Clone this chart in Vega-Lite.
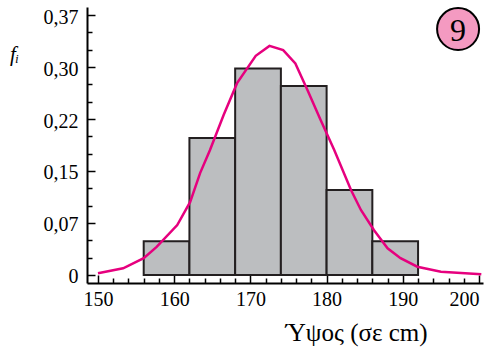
{
  "$schema": "https://vega.github.io/schema/vega-lite/v6.json",
  "width": 396,
  "height": 276,
  "autosize": {"type": "none"},
  "padding": {"left": 87, "top": 7, "right": 1, "bottom": 68},
  "background": "white",
  "config": {
    "view": {"stroke": null},
    "axis": {
      "labelFont": "Liberation Serif, DejaVu Serif, serif",
      "titleFont": "Liberation Serif, DejaVu Serif, serif",
      "domainColor": "black",
      "tickColor": "black",
      "labelColor": "black",
      "titleColor": "black",
      "grid": false,
      "domainWidth": 2,
      "tickWidth": 1.5,
      "labelOverlap": false,
      "titleFontWeight": "normal"
    }
  },
  "datasets": {
    "bins": [
      {"start": 156, "end": 162, "f": 0.048},
      {"start": 162, "end": 168, "f": 0.195},
      {"start": 168, "end": 174, "f": 0.294},
      {"start": 174, "end": 180, "f": 0.269},
      {"start": 180, "end": 186, "f": 0.121},
      {"start": 186, "end": 192, "f": 0.048}
    ],
    "curve": [
      {"h": 150.0, "p": 0.0024},
      {"h": 153.3, "p": 0.0095},
      {"h": 156.0, "p": 0.024},
      {"h": 157.7, "p": 0.040},
      {"h": 160.4, "p": 0.071},
      {"h": 162.1, "p": 0.104},
      {"h": 163.4, "p": 0.145},
      {"h": 164.7, "p": 0.178},
      {"h": 166.5, "p": 0.228},
      {"h": 168.25, "p": 0.273},
      {"h": 170.7, "p": 0.312},
      {"h": 172.5, "p": 0.326},
      {"h": 174.3, "p": 0.320},
      {"h": 175.9, "p": 0.301},
      {"h": 177.5, "p": 0.263},
      {"h": 179.2, "p": 0.221},
      {"h": 181.0, "p": 0.178},
      {"h": 183.2, "p": 0.121},
      {"h": 184.5, "p": 0.0925},
      {"h": 186.2, "p": 0.064},
      {"h": 188.0, "p": 0.038},
      {"h": 189.7, "p": 0.024},
      {"h": 191.9, "p": 0.0118},
      {"h": 195.0, "p": 0.0047},
      {"h": 200.3, "p": 0.001}
    ]
  },
  "layer": [
    {
      "data": {"name": "bins"},
      "mark": {"type": "rect", "fill": "#bcbec0", "stroke": "#231f20", "strokeWidth": 2},
      "encoding": {
        "x": {
          "field": "start",
          "type": "quantitative",
          "title": "Ύψος (σε cm)",
          "scale": {"domain": [148.56, 200.52], "nice": false, "zero": false},
          "axis": {
            "values": [150,152,154,156,158,160,162,164,166,168,170,172,174,176,178,180,182,184,186,188,190,192,194,196,198,200],
            "tickCount": 200,
            "labelExpr": "datum.value % 10 == 0 ? datum.value : ''",
            "labelOverlap": false,
            "tickSize": {"condition": {"test": "datum.value % 10 == 0", "value": -8}, "value": -5},
            "labelFontSize": 20,
            "labelPadding": 14,
            "labelFlush": 5,
            "titleFontSize": 25,
            "titleX": 269,
            "titleY": 57,
            "titleAlign": "center",
            "titleBaseline": "alphabetic"
          }
        },
        "x2": {"field": "end"},
        "y": {
          "field": "f",
          "type": "quantitative",
          "title": "fᵢ",
          "scale": {"domain": [-0.0114, 0.3814], "nice": false, "zero": false},
          "axis": {
            "values": [0, 0.0246667, 0.0493333, 0.074, 0.0986667, 0.1233333, 0.148, 0.1726667, 0.1973333, 0.222, 0.2466667, 0.2713333, 0.296, 0.3206667, 0.3453333, 0.37],
            "tickCount": 200,
            "labelExpr": "abs(datum.value/0.074 - round(datum.value/0.074)) < 0.05 ? (datum.value == 0 ? '0' : replace(format(datum.value, '.2f'), '.', ',')) : ''",
            "labelOverlap": false,
            "tickSize": {"condition": {"test": "abs(datum.value/0.074 - round(datum.value/0.074)) < 0.05", "value": -8}, "value": -5},
            "labelFontSize": 20,
            "labelPadding": 17,
            "labelOffset": 2,
            "labelFlush": false,
            "titleFontSize": 21,
            "titleFontStyle": "italic",
            "titleAngle": 0,
            "titleX": -73,
            "titleY": 53,
            "titleAlign": "center",
            "titleBaseline": "alphabetic"
          }
        },
        "y2": {"datum": 0}
      }
    },
    {
      "data": {"name": "curve"},
      "mark": {"type": "line", "color": "#e6007e", "strokeWidth": 2.5, "clip": true},
      "encoding": {
        "x": {"field": "h", "type": "quantitative", "title": "Ύψος (σε cm)"},
        "y": {"field": "p", "type": "quantitative", "title": "fᵢ"}
      }
    },
    {
      "data": {"values": [{"n": "9"}]},
      "mark": {"type": "point", "shape": "circle", "size": 1764, "filled": true, "fill": "#f49ac1", "stroke": "black", "strokeWidth": 2, "opacity": 1},
      "encoding": {
        "x": {"datum": 197.25, "type": "quantitative", "title": "Ύψος (σε cm)"},
        "y": {"datum": 0.35, "type": "quantitative", "title": "fᵢ"}
      }
    },
    {
      "data": {"values": [{"n": "9"}]},
      "mark": {"type": "text", "font": "Liberation Serif, DejaVu Serif, serif", "fontSize": 32, "baseline": "middle", "align": "center", "dy": 2, "color": "black"},
      "encoding": {
        "x": {"datum": 197.25, "type": "quantitative", "title": "Ύψος (σε cm)"},
        "y": {"datum": 0.35, "type": "quantitative", "title": "fᵢ"},
        "text": {"field": "n"}
      }
    }
  ]
}
